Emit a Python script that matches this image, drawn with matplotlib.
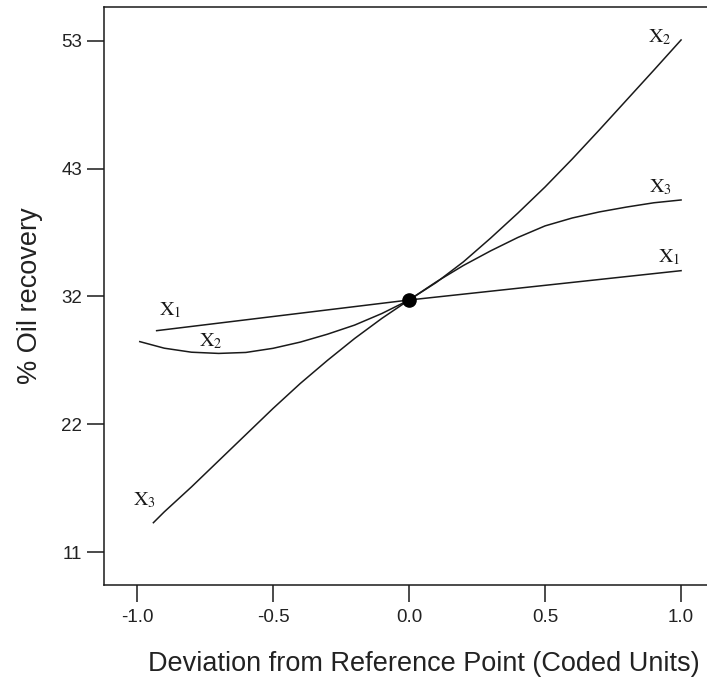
import matplotlib
matplotlib.use("Agg")
import matplotlib.pyplot as plt

# perturbation plot: % oil recovery vs deviation from reference point
x1_x = [-0.928, 0.0, 1.0]
x1_y = [29.19, 31.71, 34.12]

x2_x = [-0.99, -0.9, -0.8, -0.7, -0.6, -0.5, -0.4, -0.3, -0.2, -0.1, 0.0,
        0.1, 0.2, 0.3, 0.4, 0.5, 0.6, 0.7, 0.8, 0.9, 1.0]
x2_y = [28.29, 27.75, 27.42, 27.32, 27.40, 27.74, 28.25, 28.90, 29.65, 30.60, 31.71,
        33.15, 34.85, 36.80, 38.85, 41.00, 43.30, 45.70, 48.15, 50.60, 53.08]

x3_x = [-0.94, -0.9, -0.8, -0.7, -0.6, -0.5, -0.4, -0.3, -0.2, -0.1, 0.0,
        0.1, 0.2, 0.3, 0.4, 0.5, 0.6, 0.7, 0.8, 0.9, 1.0]
x3_y = [13.41, 14.30, 16.35, 18.50, 20.65, 22.80, 24.85, 26.75, 28.55, 30.20, 31.71,
        33.20, 34.55, 35.75, 36.85, 37.80, 38.45, 38.95, 39.35, 39.70, 39.93]

center = (0.0, 31.71)

yticks = [11, 21.5, 32, 42.5, 53]
ytick_labels = ["11", "22", "32", "43", "53"]
xticks = [-1.0, -0.5, 0.0, 0.5, 1.0]

plt.rcParams['font.family'] = ['Liberation Sans', 'DejaVu Sans']
plt.rcParams['mathtext.fontset'] = 'stix'

fig = plt.figure(figsize=(7.07, 6.77), dpi=100)
ax = fig.add_axes([0.1477, 0.1359, 0.8618, 0.8538])

col = '#1a1a1a'
ax.plot(x1_x, x1_y, color=col, lw=1.1)
ax.plot(x2_x, x2_y, color=col, lw=1.1)
ax.plot(x3_x, x3_y, color=col, lw=1.1)
ax.plot([center[0]], [center[1]], 'o', color='black', ms=9.5, zorder=5)

# curve labels
lab = dict(fontsize=14.5, color=col, ha='center', va='center')
ax.text(0.923, 53.3, r'$\mathrm{X}_{2}$', **lab)
ax.text(0.926, 41.0, r'$\mathrm{X}_{3}$', **lab)
ax.text(0.956, 35.25, r'$\mathrm{X}_{1}$', **lab)
ax.text(-0.879, 30.9, r'$\mathrm{X}_{1}$', **lab)
ax.text(-0.728, 28.35, r'$\mathrm{X}_{2}$', **lab)
ax.text(-0.971, 15.3, r'$\mathrm{X}_{3}$', **lab)

ax.set_xlim(-1.12, 1.12)
ax.set_ylim(8.29, 55.79)
ax.set_xticks(xticks)
ax.set_xticklabels(["%.1f" % v for v in xticks])
ax.set_yticks(yticks)
ax.set_yticklabels(ytick_labels)
ax.tick_params(direction='out', length=12, width=1.1, color=col,
               labelsize=13.5, labelcolor='#222222')
ax.tick_params(axis='x', pad=5)
ax.tick_params(axis='y', pad=4)
ax.spines['right'].set_visible(False)
for s in ['left', 'bottom', 'top']:
    ax.spines[s].set_linewidth(1.1)
    ax.spines[s].set_color(col)

ax.set_xlabel('Deviation from Reference Point (Coded Units)', fontsize=19.5,
              color='#222222')
ax.xaxis.set_label_coords(0.5245, -0.114)
ax.set_ylabel('% Oil recovery', fontsize=19.5, color='#222222', labelpad=13)

fig.savefig('out.png', dpi=100)
